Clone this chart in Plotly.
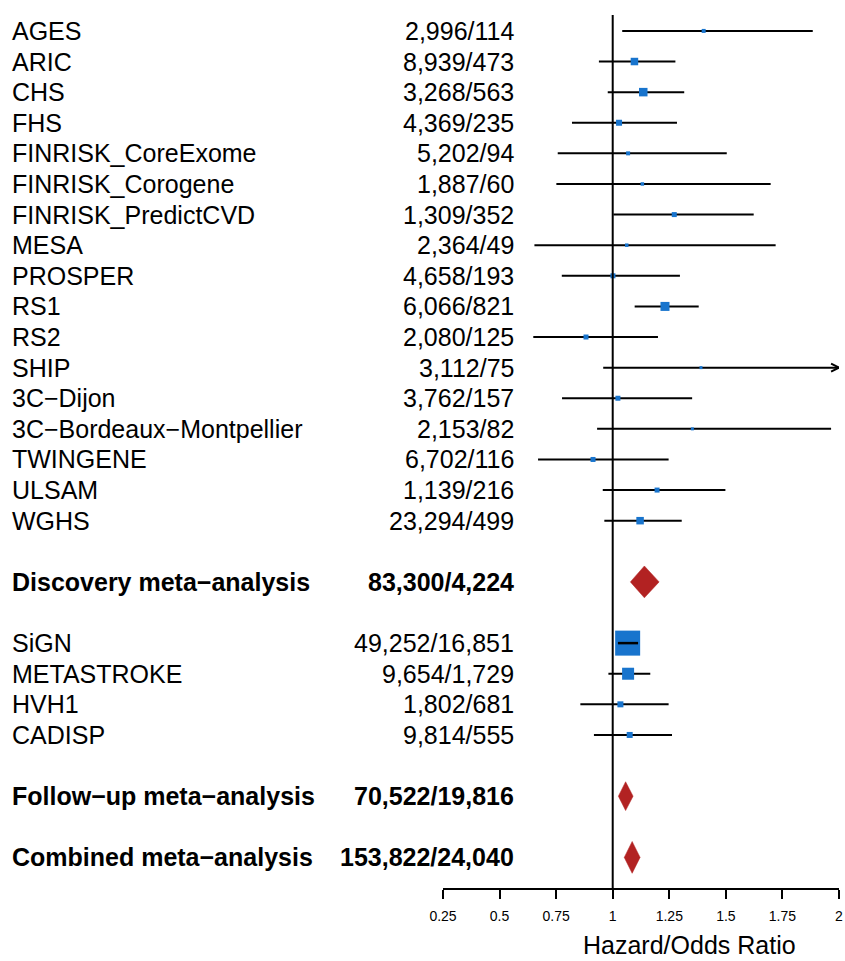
import plotly.graph_objects as go

# ---------------- data ----------------
study_names = ["AGES", "ARIC", "CHS", "FHS", "FINRISK_CoreExome", "FINRISK_Corogene",
               "FINRISK_PredictCVD", "MESA", "PROSPER", "RS1", "RS2", "SHIP",
               "3C\u2212Dijon", "3C\u2212Bordeaux\u2212Montpellier", "TWINGENE", "ULSAM", "WGHS",
               "SiGN", "METASTROKE", "HVH1", "CADISP"]
study_counts = ["2,996/114", "8,939/473", "3,268/563", "4,369/235", "5,202/94", "1,887/60",
                "1,309/352", "2,364/49", "4,658/193", "6,066/821", "2,080/125", "3,112/75",
                "3,762/157", "2,153/82", "6,702/116", "1,139/216", "23,294/499",
                "49,252/16,851", "9,654/1,729", "1,802/681", "9,814/555"]
study_rows = [0, 1, 2, 3, 4, 5, 6, 7, 8, 9, 10, 11, 12, 13, 14, 15, 16, 20, 21, 22, 23]
study_est = [1.402, 1.096, 1.135, 1.028, 1.068, 1.131, 1.272, 1.062, 1.001, 1.231, 0.882, 1.390,
             1.023, 1.352, 0.913, 1.196, 1.121, 1.066, 1.068, 1.034, 1.075]
study_lo = [1.042, 0.939, 0.978, 0.820, 0.757, 0.751, 1.003, 0.654, 0.775, 1.097, 0.649, 0.958,
            0.776, 0.931, 0.670, 0.956, 0.963, 1.023, 0.981, 0.857, 0.917]
study_hi = [1.884, 1.277, 1.316, 1.284, 1.504, 1.698, 1.623, 1.720, 1.297, 1.380, 1.200, 2.30,
            1.351, 1.965, 1.247, 1.498, 1.305, 1.112, 1.166, 1.247, 1.262]

meta_names = ["Discovery meta\u2212analysis", "Follow\u2212up meta\u2212analysis", "Combined meta\u2212analysis"]
meta_counts = ["83,300/4,224", "70,522/19,816", "153,822/24,040"]
meta_rows = [18, 25, 27]
meta_est = [1.140, 1.057, 1.086]
meta_lo = [1.078, 1.025, 1.051]
meta_hi = [1.205, 1.090, 1.121]

tick_vals = [0.25, 0.5, 0.75, 1, 1.25, 1.5, 1.75, 2]
tick_text = ["0.25", "0.5", "0.75", "1", "1.25", "1.5", "1.75", "2"]
x_title = "Hazard/Odds Ratio"

# ---------------- styles ----------------
box_px = [4, 7.5, 8.5, 6, 4, 3.5, 5, 3.5, 5, 9, 5, 3, 5, 3, 5, 5, 7.5, 25, 12, 6, 6]
diamond_half = [0.52, 0.47, 0.52]
BLUE = "#1874CD"
RED = "#B22222"
FONT = "Liberation Sans, Arial, Helvetica, sans-serif"
FS = 25
CI_W = 2
XMIN, XMAX = 0.25, 2.0
Y_TOP, Y_BOT = -0.52, 28.0
L, R, T, B = 443, 6, 15, 73
W, H = 845, 961
plot_w = W - L - R
plot_h = H - T - B

def px_to_paper(px):
    return (px - L) / plot_w

fig = go.Figure()

# CI lines
for r, lo, hi in zip(study_rows, study_lo, study_hi):
    fig.add_trace(go.Scatter(x=[lo, min(hi, XMAX)], y=[r, r], mode="lines",
                             line=dict(color="black", width=CI_W),
                             hoverinfo="skip", showlegend=False))
    if hi > XMAX:
        dx, dy = 0.035, 0.13
        fig.add_trace(go.Scatter(x=[XMAX - dx, XMAX, XMAX - dx], y=[r - dy, r, r + dy],
                                 mode="lines", line=dict(color="black", width=CI_W),
                                 hoverinfo="skip", showlegend=False))

# boxes
fig.add_trace(go.Scatter(x=study_est, y=study_rows, mode="markers",
                         marker=dict(symbol="square", size=box_px, color=BLUE, opacity=1,
                                     line=dict(width=0)),
                         hoverinfo="skip", showlegend=False))

# CI lines that fit inside their box drawn on top
for r, lo, hi, e, s in zip(study_rows, study_lo, study_hi, study_est, box_px):
    half_w = s / 2 / plot_w * (XMAX - XMIN)
    if lo > e - half_w and hi < e + half_w:
        fig.add_trace(go.Scatter(x=[lo, hi], y=[r, r], mode="lines",
                                 line=dict(color="black", width=2.5),
                                 hoverinfo="skip", showlegend=False))

# diamonds
for r, e, lo, hi, h in zip(meta_rows, meta_est, meta_lo, meta_hi, diamond_half):
    fig.add_trace(go.Scatter(x=[lo, e, hi, e, lo], y=[r, r - h, r, r + h, r],
                             mode="lines", fill="toself", fillcolor=RED,
                             line=dict(color=RED, width=0.5),
                             hoverinfo="skip", showlegend=False))

# vertical reference line at 1
fig.add_shape(type="line", x0=1, x1=1, y0=Y_TOP, y1=Y_BOT, xref="x", yref="y",
              line=dict(color="black", width=2), layer="above")

# text columns
label_x = px_to_paper(11.5)
count_x = px_to_paper(514.5)
def add_text(x, y, text, anchor):
    fig.add_annotation(x=x, y=y, xref="paper", yref="y", text=text,
                       xanchor=anchor, yanchor="middle", showarrow=False, borderpad=0,
                       font=dict(family=FONT, size=FS, color="black"))

for name, cnt, r in zip(study_names, study_counts, study_rows):
    add_text(label_x, r, name, "left")
    add_text(count_x, r, cnt, "right")
for name, cnt, r in zip(meta_names, meta_counts, meta_rows):
    add_text(label_x, r, "<b>" + name + "</b>", "left")
    add_text(count_x, r, "<b>" + cnt + "</b>", "right")

# axis title
fig.add_annotation(x=px_to_paper(689.7), y=(H - B - 960.5) / plot_h, xref="paper", yref="paper",
                   text=x_title, xanchor="center", yanchor="bottom", showarrow=False, borderpad=0,
                   font=dict(family=FONT, size=FS, color="black"))

fig.update_layout(
    width=W, height=H, autosize=False,
    margin=dict(l=L, r=R, t=T, b=B, pad=0, autoexpand=False),
    paper_bgcolor="white", plot_bgcolor="white",
    font=dict(family=FONT, color="black"),
    xaxis=dict(range=[XMIN, XMAX], showline=True, linecolor="black", linewidth=2,
               ticks="outside", ticklen=9, tickwidth=2, tickcolor="black",
               tickvals=tick_vals, ticktext=tick_text, tickfont=dict(size=14, family=FONT),
               ticklabelstandoff=5, automargin=False,
               showgrid=False, zeroline=False, fixedrange=True),
    yaxis=dict(range=[Y_BOT, Y_TOP], visible=False, showgrid=False, zeroline=False,
               fixedrange=True, automargin=False),
)

fig.write_html("out.html")
